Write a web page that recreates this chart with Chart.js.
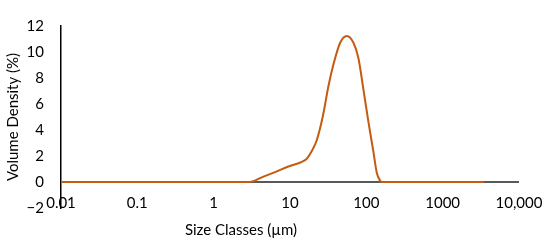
<!DOCTYPE html>
<html>
<head>
<meta charset="utf-8">
<script src="https://cdn.jsdelivr.net/npm/chart.js@4/dist/chart.umd.min.js"></script>
<style>
html,body{margin:0;padding:0;background:#fff;}
#wrap{width:550px;height:241px;}
</style>
</head>
<body>
<div id="wrap"><canvas id="c" width="550" height="241"></canvas></div>
<script>
// Data
const sizeClasses = [0.01, 0.1, 1, 2, 3.0, 4.27, 6.38, 9.53, 14.3, 16.6, 19.3, 22.4, 27, 31.9, 37.1, 45.4, 55.5, 67.8, 78.8, 91.7, 106.6, 124, 137, 151, 160, 300, 1000, 3500];
const volumeDensity = [0, 0, 0, 0, 0, 0.36, 0.76, 1.19, 1.55, 1.79, 2.38, 3.21, 5.1, 7.38, 9.05, 10.71, 11.24, 10.71, 9.52, 7.1, 4.6, 2.3, 0.71, 0.12, 0, 0, 0, 0];
const xTickValues = [0.01, 0.1, 1, 10, 100, 1000, 10000];
const xTickLabels = ['0.01', '0.1', '1', '10', '100', '1000', '10,000'];
const yTickValues = [-2, 0, 2, 4, 6, 8, 10, 12];
const yTickLabels = ['\u22122', '0', '2', '4', '6', '8', '10', '12'];
const xTitle = 'Size Classes (\u00b5m)';
const yTitle = 'Volume Density (%)';

const FONT = 'Lato, "Open Sans", sans-serif';

const points = sizeClasses.map((x, i) => ({x: x, y: volumeDensity[i]}));

const xTitlePlugin = {
  id: 'xTitlePlugin',
  afterDraw(chart) {
    const ctx = chart.ctx;
    ctx.save();
    ctx.font = '15px ' + FONT;
    ctx.fillStyle = '#000';
    ctx.textAlign = 'center';
    ctx.textBaseline = 'middle';
    ctx.fillText(xTitle, 241, 230);
    ctx.restore();
  }
};

new Chart(document.getElementById('c'), {
  type: 'scatter',
  data: {
    datasets: [{
      data: points,
      showLine: true,
      borderColor: '#C55A11',
      borderWidth: 2,
      pointRadius: 0,
      cubicInterpolationMode: 'monotone',
      fill: false
    }]
  },
  options: {
    responsive: false,
    animation: false,
    devicePixelRatio: 1,
    layout: {padding: {left: 0, right: 31, top: 12, bottom: 0}},
    plugins: {legend: {display: false}, tooltip: {enabled: false}},
    scales: {
      x: {
        type: 'logarithmic',
        min: 0.01,
        max: 10000,
        afterBuildTicks(scale) { scale.ticks = xTickValues.map(v => ({value: v})); },
        afterFit(scale) { scale.height = 33; },
        grid: {display: false, drawTicks: false},
        border: {display: false},
        ticks: {
          autoSkip: false,
          maxRotation: 0,
          mirror: true,
          padding: -4,
          color: '#000',
          font: {family: FONT, size: 15},
          callback(v) { const i = xTickValues.indexOf(v); return i >= 0 ? xTickLabels[i] : ''; }
        }
      },
      y: {
        min: -2,
        max: 12,
        afterBuildTicks(scale) { scale.ticks = yTickValues.map(v => ({value: v})); },
        afterFit(scale) { scale.width = 61; },
        grid: {
          drawTicks: false,
          color: ctx => (ctx.tick && ctx.tick.value === 0) ? '#595959' : 'rgba(0,0,0,0)',
          lineWidth: 2
        },
        border: {display: true, color: '#000', width: 1.5},
        title: {display: true, text: yTitle, color: '#000', font: {family: FONT, size: 15}, padding: {top: 4, bottom: 0}},
        ticks: {
          padding: 17,
          color: '#000',
          font: {family: FONT, size: 15},
          callback(v) { const i = yTickValues.indexOf(v); return i >= 0 ? yTickLabels[i] : ''; }
        }
      }
    }
  },
  plugins: [xTitlePlugin]
});
</script>
</body>
</html>
